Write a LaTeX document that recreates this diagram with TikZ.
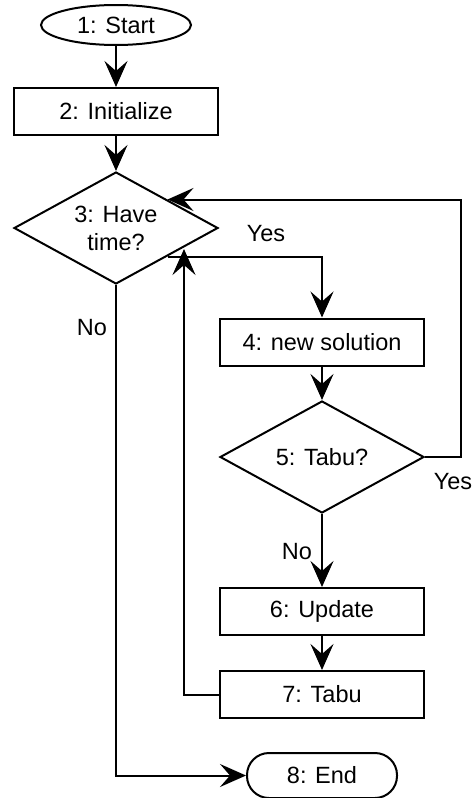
\documentclass[tikz,border=0pt]{standalone}
\usepackage{fontspec}
\setmainfont{Liberation Sans}
\usetikzlibrary{arrows.meta,shapes.geometric}
\begin{document}
\begin{tikzpicture}[x=1pt,y=-1pt,
  every node/.style={font=\fontsize{23.5}{28}\selectfont},
  base/.style={draw,line width=2pt,inner sep=0pt,align=center},
  procbox/.style={base,rectangle,minimum width=204pt,minimum height=47pt},
  decision/.style={base,diamond,minimum width=204pt,minimum height=112pt,shape aspect=1.82},
  terminal/.style={base,ellipse,minimum width=150pt,minimum height=40pt},
  endbox/.style={base,rectangle,rounded corners=22pt,minimum width=150pt,minimum height=45pt},
  flow/.style={line width=2pt,-{Stealth[length=26pt,width=23pt,inset=10pt]}},
  lbl/.style={inner sep=0pt}]
\useasboundingbox (0,0) rectangle (474,798);
\node[terminal] (s) at (116,25) {1: Start};
\node[procbox] (init) at (116,111.5) {2: Initialize};
\node[decision] (d3) at (116,228) {3: Have\\time?};
\node[procbox] (n4) at (322,342) {4: new solution};
\node[decision] (d5) at (322,457) {5: Tabu?};
\node[procbox] (n6) at (322,611.5) {6: Update};
\node[procbox] (n7) at (322,694.5) {7: Tabu};
\node[endbox] (e) at (322,775.5) {8: End};
\coordinate (j) at (184,249);
\node[lbl] (ly1) at (266,234) {Yes};
\node[lbl] (ln1) at (92,328) {No};
\node[lbl] (ly2) at (453,482) {Yes};
\node[lbl] (ln2) at (297,552) {No};
\draw[flow] (s) -- (init);
\draw[flow] (init) -- (d3);
\draw[flow] (d3.south east) -| (n4.north);
\draw[flow] (n4) -- (d5);
\draw[flow] (d5.east) -- ++(36,0) |- (d3.north east);
\draw[flow] (d5) -- (n6);
\draw[flow] (n6) -- (n7);
\draw[flow] (n7.west) -| (j);
\draw[flow] (d3.south) |- (e.west);
\end{tikzpicture}
\end{document}
